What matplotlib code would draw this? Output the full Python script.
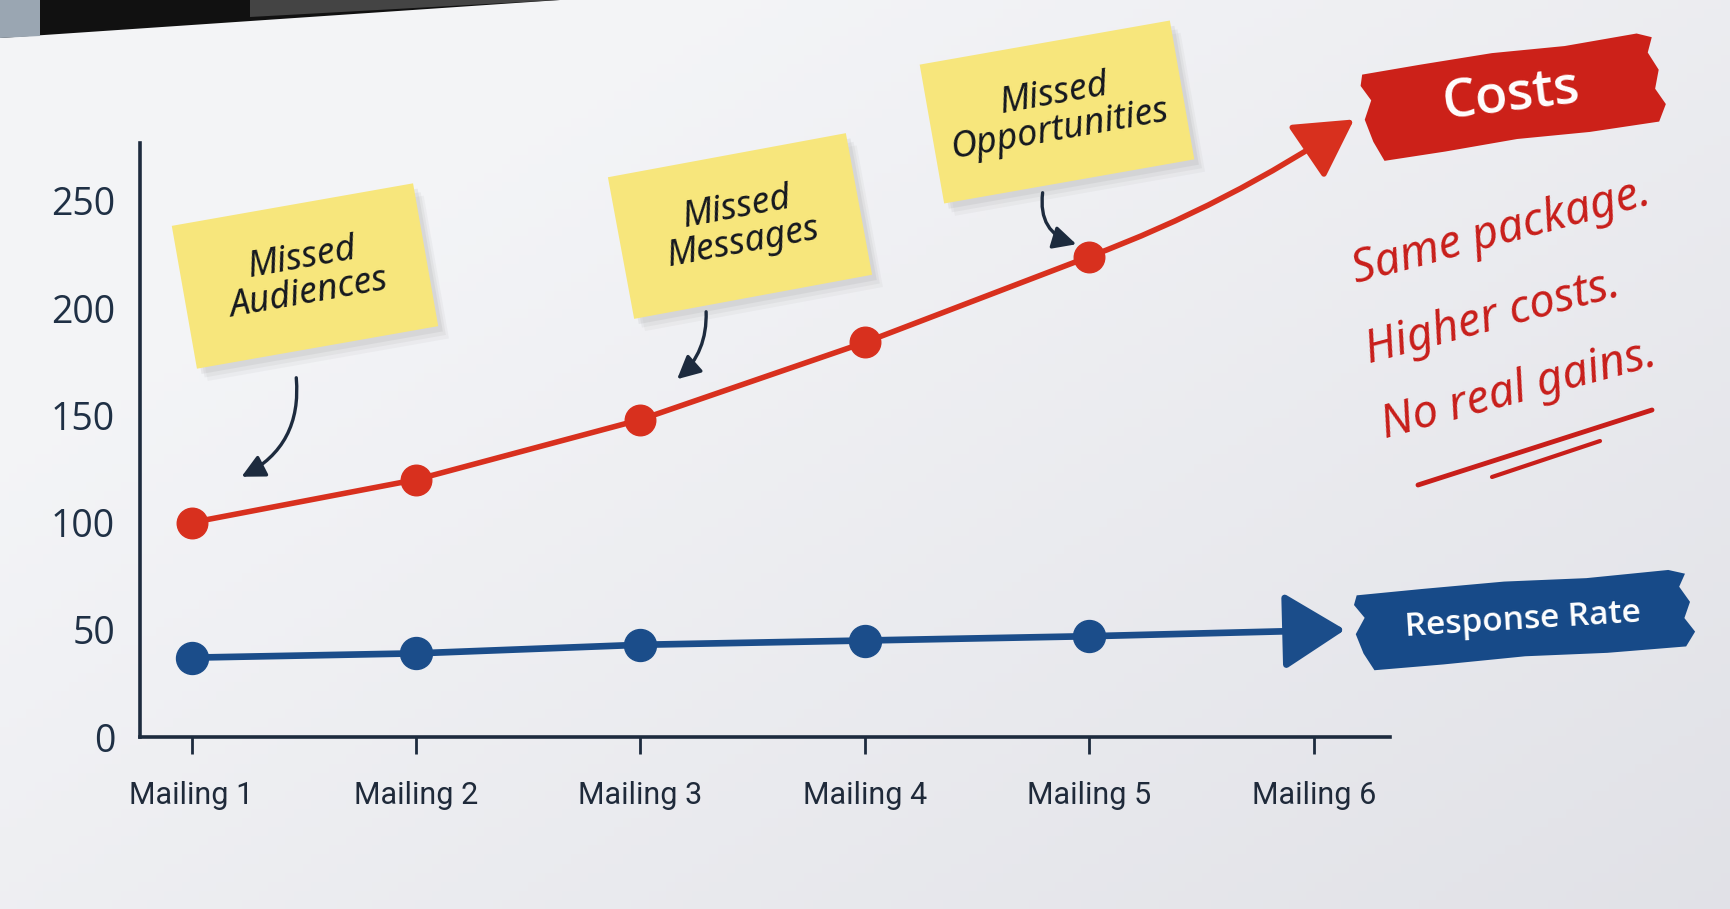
import matplotlib
matplotlib.use("Agg")
import matplotlib.pyplot as plt
from matplotlib.patches import Rectangle, Polygon, FancyArrowPatch
from matplotlib.transforms import Affine2D
import numpy as np

# ── Data ────────────────────────────────────────────────────────────────
mailings = ["Mailing 1", "Mailing 2", "Mailing 3", "Mailing 4", "Mailing 5", "Mailing 6"]
costs = [100, 120, 148, 184, 224]
response_rate = [37, 39, 43, 45, 47]
y_ticks = [0, 50, 100, 150, 200, 250]
notes = ["Missed\nAudiences", "Missed\nMessages", "Missed\nOpportunities"]
remark_lines = ["Same package.", "Higher costs.", "No real gains."]

# ── Colours ─────────────────────────────────────────────────────────────
C_RED = "#d8301e"
C_BLUE = "#1b4d8a"
C_INK = "#1d2b3e"
C_NOTE = "#f7e67c"
C_BRUSH_RED = "#cc2119"
C_BRUSH_BLUE = "#174a88"
C_HAND = "#c81e1a"

W, H = 1730, 909
fig = plt.figure(figsize=(W / 100, H / 100), dpi=100)

# ── Background (paper) ──────────────────────────────────────────────────
bg = fig.add_axes([0, 0, 1, 1], zorder=0)
bg.set_xlim(0, W)
bg.set_ylim(0, H)
bg.axis("off")
gx, gy = np.meshgrid(np.linspace(0, 1, 200), np.linspace(0, 1, 100))
shade = np.clip(0.6 * gx + 0.5 * gy - 0.25, 0, 1)
c0 = np.array([0.955, 0.958, 0.968])
c1 = np.array([0.870, 0.872, 0.895])
img = c0[None, None, :] * (1 - shade[..., None]) + c1[None, None, :] * shade[..., None]
bg.imshow(img, extent=[0, W, 0, H], origin="upper", aspect="auto", zorder=0)
bg.add_patch(Polygon([[0, H], [560, H], [0, H - 38]], closed=True,
                     facecolor="#111111", edgecolor="none", zorder=1))
bg.add_patch(Polygon([[250, H], [560, H], [250, H - 17]], closed=True,
                     facecolor="#5a5a5a", edgecolor="none", alpha=0.7, zorder=1))
bg.add_patch(Polygon([[0, H], [40, H], [40, H - 36], [0, H - 38]], closed=True,
                     facecolor="#9aa6b2", edgecolor="none", zorder=1))

# ── Chart ───────────────────────────────────────────────────────────────
ax = fig.add_axes([140 / W, (H - 737) / H, (1390 - 140) / W, (737 - 143) / H], zorder=1)
ax.set_facecolor("none")
x = np.arange(1, len(costs) + 1)
ax.set_xlim(0.77, 6.34)
ax.set_ylim(0, 277)

ax.plot(x, costs, color=C_RED, lw=4, marker="o", ms=22, zorder=3,
        solid_capstyle="round", clip_on=False)
ax.plot(x, response_rate, color=C_BLUE, lw=4.8, marker="o", ms=23, zorder=3,
        solid_capstyle="round", clip_on=False)

# trend arrows past the last mailing
ax.annotate("", xy=(6.18, 288), xytext=(x[-1], costs[-1]),
            arrowprops=dict(arrowstyle="-|>,head_width=0.45,head_length=0.8",
                            color=C_RED, lw=4, mutation_scale=45,
                            connectionstyle="arc3,rad=0.06", shrinkA=0, shrinkB=0),
            annotation_clip=False, zorder=3)
ax.annotate("", xy=(6.14, 50), xytext=(x[-1], response_rate[-1]),
            arrowprops=dict(arrowstyle="-|>,head_width=0.5,head_length=0.8",
                            color=C_BLUE, lw=4.8, mutation_scale=48,
                            shrinkA=0, shrinkB=0),
            annotation_clip=False, zorder=3)

for side in ["top", "right"]:
    ax.spines[side].set_visible(False)
for side in ["left", "bottom"]:
    ax.spines[side].set_color(C_INK)
    ax.spines[side].set_linewidth(2.6)

ax.set_yticks(y_ticks)
ax.set_yticklabels([str(v) for v in y_ticks], fontsize=27, color="#1f3045",
                   fontweight="medium", family=["Open Sans", "DejaVu Sans"])
ax.tick_params(axis="y", length=0, pad=18)
ax.set_xticks(np.arange(1, len(mailings) + 1))
ax.set_xticklabels(mailings, fontsize=22, color="#1f2a3a",
                   family=["Roboto", "DejaVu Sans"])
ax.tick_params(axis="x", length=12, width=2, color=C_INK, pad=20)

# ── Overlay: sticky notes, labels, handwriting ──────────────────────────
ov = fig.add_axes([0, 0, 1, 1], zorder=2)
ov.set_xlim(0, W)
ov.set_ylim(0, H)
ov.axis("off")


def sticky_note(cx, cy, w, h, angle, text):
    rot = Affine2D().rotate_deg_around(cx, cy, angle) + ov.transData
    for k, a in [(14, 0.06), (10, 0.08), (6, 0.10)]:
        ov.add_patch(Rectangle((cx - w / 2 + k * 0.6, cy - h / 2 - k), w, h,
                               facecolor="#7a7a7a", edgecolor="none", alpha=a,
                               transform=rot, zorder=2))
    ov.add_patch(Rectangle((cx - w / 2, cy - h / 2), w, h,
                           facecolor=C_NOTE, edgecolor="none", transform=rot, zorder=3))
    ov.text(cx, cy, text, ha="center", va="center", rotation=angle,
            rotation_mode="anchor", fontsize=26, style="italic", fontweight="medium",
            color="#15181f", family=["Noto Sans", "DejaVu Sans"],
            linespacing=1.0, zorder=4)


sticky_note(305, H - 276, 245, 145, 10, notes[0])
sticky_note(740, H - 226, 242, 144, 10.5, notes[1])
sticky_note(1057, H - 112, 254, 141, 10, notes[2])


def pointer(p0, p1, rad):
    arr = FancyArrowPatch(p0, p1, connectionstyle=f"arc3,rad={rad}",
                          arrowstyle="-|>,head_width=0.25,head_length=0.5",
                          mutation_scale=28, color=C_INK, lw=2.4, zorder=4)
    ov.add_patch(arr)


pointer((296, H - 375), (239, H - 478), -0.35)
pointer((706, H - 309), (675, H - 381), -0.25)
pointer((1043, H - 190), (1079, H - 245), 0.45)

# rough brush-stroke outline (fractions of width/height)
edge_top = [(-0.50, 0.44), (-0.30, 0.47), (-0.05, 0.50), (0.20, 0.48), (0.45, 0.52), (0.50, 0.46)]
edge_right = [(0.48, 0.30), (0.51, 0.10), (0.49, -0.10), (0.52, -0.28)]
edge_bot = [(0.49, -0.46), (0.25, -0.48), (0.00, -0.46), (-0.25, -0.50), (-0.46, -0.52)]
edge_left = [(-0.49, -0.30), (-0.51, -0.05), (-0.48, 0.15), (-0.51, 0.32)]


def brush_label(cx, cy, w, h, angle, color, text, size):
    rot = Affine2D().rotate_deg_around(cx, cy, angle) + ov.transData
    pts = [[cx + fx * w, cy + fy * h] for fx, fy in edge_top + edge_right + edge_bot + edge_left]
    ov.add_patch(Polygon(pts, closed=True, facecolor=color, edgecolor="none",
                         transform=rot, zorder=3))
    ov.text(cx, cy, text, ha="center", va="center", rotation=angle,
            rotation_mode="anchor", fontsize=size, fontweight="semibold",
            color="white", family=["Open Sans", "DejaVu Sans"], zorder=4)


brush_label(1512, H - 97, 292, 92, 7, C_BRUSH_RED, "Costs", 38)
brush_label(1523, H - 620, 329, 79, 3.5, C_BRUSH_BLUE, "Response Rate", 24)

starts = [(1356, H - 283), (1369, H - 363), (1385, H - 438)]
for (sx, sy), line in zip(starts, remark_lines):
    ov.text(sx, sy, line, ha="left", va="baseline", rotation=15,
            rotation_mode="anchor", fontsize=33, style="italic", color=C_HAND,
            family=["Noto Sans", "DejaVu Sans"], zorder=4)

ov.plot([1418, 1652], [H - 485, H - 410], color=C_HAND, lw=3.5,
        solid_capstyle="round", zorder=4)
ov.plot([1492, 1600], [H - 477, H - 441], color=C_HAND, lw=3,
        solid_capstyle="round", zorder=4)

fig.savefig("out.png", dpi=100)
